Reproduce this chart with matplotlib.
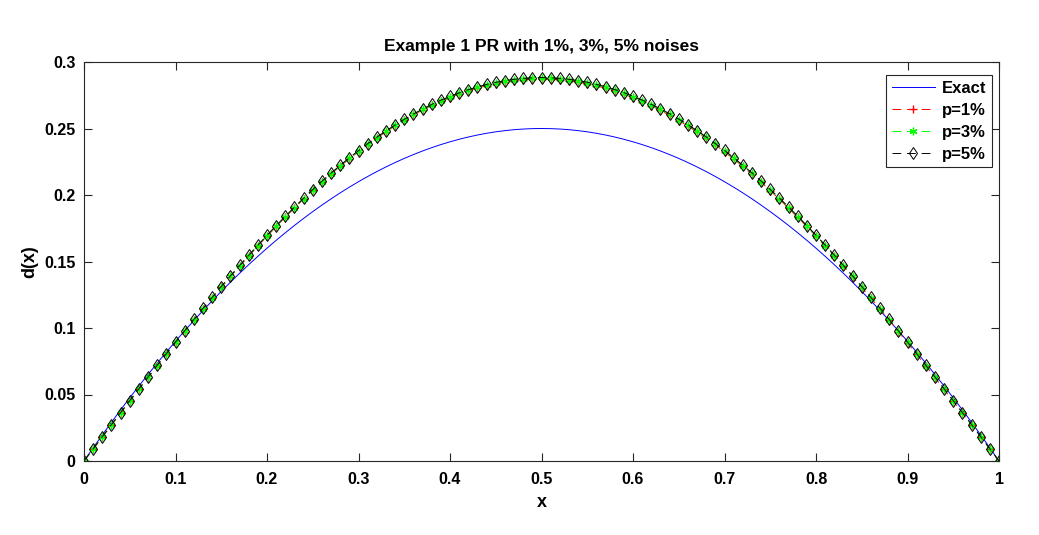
import numpy as np
import matplotlib
matplotlib.use("Agg")
import matplotlib.pyplot as plt

plt.rcParams['font.family'] = ['Liberation Sans', 'DejaVu Sans']

exact = [0, .0099, .0196, .0291, .0384, .0475, .0564, .0651, .0736, .0819,
         .0900, .0979, .1056, .1131, .1204, .1275, .1344, .1411, .1476, .1539,
         .1600, .1659, .1716, .1771, .1824, .1875, .1924, .1971, .2016, .2059,
         .2100, .2139, .2176, .2211, .2244, .2275, .2304, .2331, .2356, .2379,
         .2400, .2419, .2436, .2451, .2464, .2475, .2484, .2491, .2496, .2499,
         .2500, .2499, .2496, .2491, .2484, .2475, .2464, .2451, .2436, .2419,
         .2400, .2379, .2356, .2331, .2304, .2275, .2244, .2211, .2176, .2139,
         .2100, .2059, .2016, .1971, .1924, .1875, .1824, .1771, .1716, .1659,
         .1600, .1539, .1476, .1411, .1344, .1275, .1204, .1131, .1056, .0979,
         .0900, .0819, .0736, .0651, .0564, .0475, .0384, .0291, .0196, .0099,
         0]

p1 = [0.0000, 0.0088, 0.0179, 0.0270, 0.0359, 0.0449, 0.0538, 0.0626, 0.0714, 0.0801,
      0.0888, 0.0973, 0.1057, 0.1141, 0.1224, 0.1305, 0.1385, 0.1463, 0.1540, 0.1616,
      0.1690, 0.1763, 0.1834, 0.1902, 0.1969, 0.2034, 0.2097, 0.2158, 0.2216, 0.2272,
      0.2327, 0.2378, 0.2427, 0.2475, 0.2520, 0.2562, 0.2601, 0.2639, 0.2673, 0.2704,
      0.2733, 0.2760, 0.2783, 0.2804, 0.2822, 0.2837, 0.2850, 0.2860, 0.2866, 0.2870,
      0.2872, 0.2870, 0.2866, 0.2859, 0.2849, 0.2836, 0.2821, 0.2802, 0.2781, 0.2758,
      0.2731, 0.2702, 0.2670, 0.2636, 0.2599, 0.2560, 0.2518, 0.2473, 0.2426, 0.2377,
      0.2325, 0.2271, 0.2215, 0.2157, 0.2096, 0.2033, 0.1968, 0.1901, 0.1832, 0.1762,
      0.1690, 0.1615, 0.1540, 0.1463, 0.1384, 0.1304, 0.1223, 0.1141, 0.1058, 0.0973,
      0.0888, 0.0802, 0.0715, 0.0627, 0.0538, 0.0449, 0.0360, 0.0270, 0.0180, 0.0090,
      0.0000]

p3 = [0.0000, 0.0091, 0.0181, 0.0272, 0.0361, 0.0451, 0.0540, 0.0629, 0.0717, 0.0804,
      0.0891, 0.0976, 0.1061, 0.1145, 0.1227, 0.1308, 0.1388, 0.1467, 0.1544, 0.1620,
      0.1694, 0.1766, 0.1837, 0.1906, 0.1973, 0.2037, 0.2100, 0.2161, 0.2220, 0.2276,
      0.2331, 0.2382, 0.2432, 0.2479, 0.2524, 0.2567, 0.2606, 0.2644, 0.2678, 0.2710,
      0.2739, 0.2766, 0.2789, 0.2810, 0.2829, 0.2844, 0.2857, 0.2867, 0.2874, 0.2879,
      0.2880, 0.2879, 0.2874, 0.2867, 0.2857, 0.2845, 0.2829, 0.2811, 0.2790, 0.2766,
      0.2739, 0.2710, 0.2678, 0.2644, 0.2607, 0.2567, 0.2525, 0.2480, 0.2433, 0.2383,
      0.2331, 0.2277, 0.2220, 0.2162, 0.2101, 0.2038, 0.1973, 0.1906, 0.1837, 0.1767,
      0.1694, 0.1620, 0.1544, 0.1467, 0.1388, 0.1308, 0.1227, 0.1145, 0.1061, 0.0976,
      0.0891, 0.0804, 0.0717, 0.0629, 0.0541, 0.0451, 0.0361, 0.0272, 0.0181, 0.0091,
      0.0000]

p5 = [0.0000, 0.0092, 0.0183, 0.0274, 0.0364, 0.0454, 0.0543, 0.0632, 0.0720, 0.0807,
      0.0894, 0.0979, 0.1064, 0.1148, 0.1230, 0.1312, 0.1392, 0.1470, 0.1547, 0.1623,
      0.1697, 0.1770, 0.1840, 0.1909, 0.1976, 0.2041, 0.2104, 0.2165, 0.2223, 0.2280,
      0.2334, 0.2386, 0.2435, 0.2482, 0.2527, 0.2569, 0.2609, 0.2646, 0.2681, 0.2713,
      0.2742, 0.2768, 0.2792, 0.2813, 0.2831, 0.2847, 0.2860, 0.2870, 0.2877, 0.2881,
      0.2883, 0.2881, 0.2877, 0.2870, 0.2860, 0.2848, 0.2832, 0.2814, 0.2793, 0.2770,
      0.2743, 0.2714, 0.2682, 0.2648, 0.2611, 0.2571, 0.2529, 0.2484, 0.2437, 0.2387,
      0.2335, 0.2281, 0.2224, 0.2166, 0.2105, 0.2042, 0.1977, 0.1910, 0.1841, 0.1770,
      0.1698, 0.1624, 0.1548, 0.1470, 0.1392, 0.1312, 0.1230, 0.1148, 0.1064, 0.0979,
      0.0894, 0.0807, 0.0720, 0.0632, 0.0543, 0.0454, 0.0364, 0.0274, 0.0183, 0.0092,
      0.0000]

x = np.linspace(0, 1, len(exact))

xticks = [0, 0.1, 0.2, 0.3, 0.4, 0.5, 0.6, 0.7, 0.8, 0.9, 1]
xticklabels = ['0', '0.1', '0.2', '0.3', '0.4', '0.5', '0.6', '0.7', '0.8', '0.9', '1']
yticks = [0, 0.05, 0.1, 0.15, 0.2, 0.25, 0.3]
yticklabels = ['0', '0.05', '0.1', '0.15', '0.2', '0.25', '0.3']

fig = plt.figure(figsize=(10.39, 5.35), dpi=100)
ax = fig.add_axes([84/1039, 1-461/535, (999-84)/1039, (461-62)/535])

dash = (0, (9, 6))
ax.plot(x, exact, color='#0000ff', lw=0.7, label='Exact')
ax.plot(x, p1, color='red', ls=dash, lw=0.7, marker='+', ms=6, mew=1.0, label='p=1%')
ax.plot(x, p3, color='#00ff00', ls=dash, lw=0.7, marker=(6, 2, 0), ms=5.5, mew=0.9, label='p=3%')
ax.plot(x, p5, color='black', ls=dash, lw=0.7, marker='d', ms=6.5, mew=0.7,
        markerfacecolor='none', markeredgecolor='black', label='p=5%')

ax.set_xlim(0, 1)
ax.set_ylim(0, 0.3)
ax.set_xticks(xticks)
ax.set_xticklabels(xticklabels)
ax.set_yticks(yticks)
ax.set_yticklabels(yticklabels)
ax.tick_params(direction='in', length=6, width=0.8, top=True, right=True,
               labelsize=11.5, colors='#262626')
ax.tick_params(axis='x', pad=8)
ax.tick_params(axis='y', pad=6)
for lab in ax.get_xticklabels() + ax.get_yticklabels():
    lab.set_fontweight('bold')
    lab.set_color('black')
for s in ax.spines.values():
    s.set_linewidth(0.8)
    s.set_color('#262626')

ax.set_xlabel('x', fontsize=13, fontweight='bold', labelpad=5)
ax.set_ylabel('d(x)', fontsize=13, fontweight='bold', labelpad=4)
ax.set_title('Example 1 PR with 1%, 3%, 5% noises', fontsize=12.5, fontweight='bold', pad=8)

leg = ax.legend(loc='upper right', bbox_to_anchor=(0.9925, 0.968), fancybox=False,
                edgecolor='#262626', framealpha=1, prop={'weight': 'bold', 'size': 12},
                handlelength=2.6, handletextpad=0.4, borderpad=0.35, labelspacing=0.42,
                borderaxespad=0)
leg.get_frame().set_linewidth(0.8)

fig.savefig('out.png', dpi=100)
